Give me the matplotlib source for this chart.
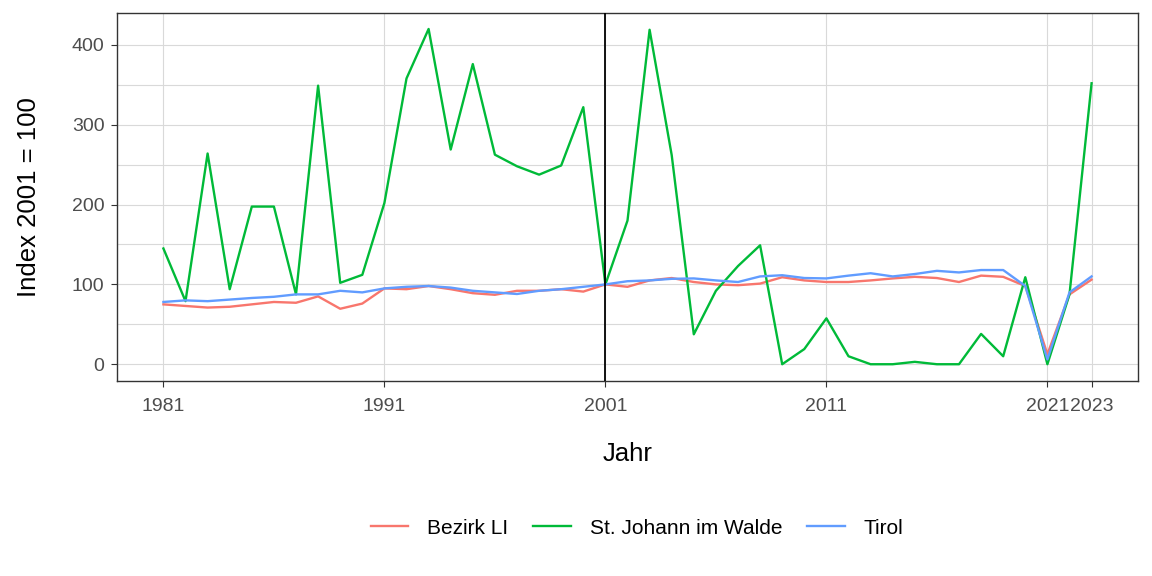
import matplotlib.pyplot as plt

# ---------------------------
# DATA
# ---------------------------
years = list(range(1981, 2024))

bezirk_li = [75, 73, 71, 72, 75, 78, 77, 85, 69.5, 76,
             95, 94, 98, 94, 89, 87, 92, 92, 94, 91,
             100, 97, 105, 108, 103, 100, 99, 101, 109, 105,
             103, 103, 105, 107.5, 109.5, 108, 103, 111, 109.5, 98,
             12.5, 87.5, 106]

st_johann = [145, 79, 264, 94, 197.5, 197.5, 87.5, 349, 102, 112,
             202, 358, 420, 269, 376, 262.5, 248, 237.5, 249, 322,
             100, 180, 419, 262, 37.5, 92, 123, 149, 0, 19,
             57.5, 10, 0, 0, 3, 0, 0, 38, 10, 109,
             0, 87.5, 352]

tirol = [78, 80, 79, 81, 83, 84.5, 87.5, 87.5, 92, 90,
         95, 97, 98, 96, 92, 90, 88, 92, 94, 97,
         100, 104, 105, 107, 107.5, 105, 103, 110, 111.5, 108,
         107.5, 111, 114, 110, 113, 117, 115, 118, 118, 98,
         6, 90, 110]

x_breaks = [1981, 1991, 2001, 2011, 2021, 2023]
y_breaks = [0, 100, 200, 300, 400]

# ---------------------------
# PLOT
# ---------------------------
plt.rcParams["font.family"] = ["Liberation Sans", "DejaVu Sans"]

fig = plt.figure(figsize=(11.52, 5.76), dpi=100)
ax = fig.add_axes([117 / 1152, 1 - 381 / 576, (1138 - 117) / 1152, (381 - 13) / 576])

ax.plot(years, bezirk_li, color="#F8766D", lw=1.7, label="Bezirk LI", zorder=3)
ax.plot(years, st_johann, color="#00BA38", lw=1.7, label="St. Johann im Walde", zorder=3)
ax.plot(years, tirol, color="#619CFF", lw=1.7, label="Tirol", zorder=3)
ax.axvline(2001, color="black", lw=1.3, zorder=4)

ax.set_xlim(1978.9, 2025.1)
ax.set_ylim(-21, 440)
ax.set_xticks(x_breaks)
ax.set_yticks(y_breaks)
ax.set_yticks([50, 150, 250, 350], minor=True)

ax.grid(True, which="major", color="#d9d9d9", lw=0.8, zorder=0)
ax.grid(True, which="minor", axis="y", color="#d9d9d9", lw=0.8, zorder=0)
ax.tick_params(which="minor", length=0)
ax.tick_params(which="major", length=4, color="#333333", labelsize=14,
               labelcolor="#4d4d4d", width=0.8, pad=5)
ax.tick_params(axis="x", pad=8)
for s in ax.spines.values():
    s.set_color("#333333")
    s.set_linewidth(1.0)

ax.set_xlabel("Jahr", fontsize=18.5, labelpad=20)
ax.set_ylabel("Index 2001 = 100", fontsize=18.5)
ax.yaxis.set_label_coords(-76 / 1021, 0.5)

fig.legend(loc="center", bbox_to_anchor=(0.553, 1 - 528 / 576), ncol=3,
           frameon=False, fontsize=15, handlelength=1.8, columnspacing=1.2,
           handletextpad=0.9)

fig.savefig("out.png", dpi=100)
